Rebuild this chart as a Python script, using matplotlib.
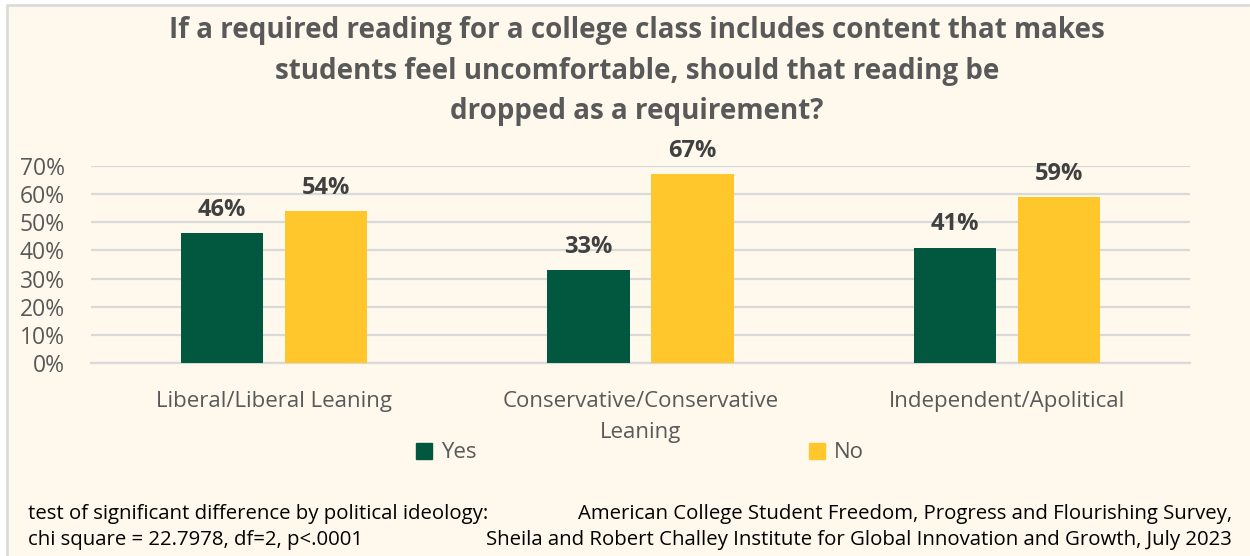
import numpy as np
import matplotlib
matplotlib.use("Agg")
import matplotlib.pyplot as plt
from matplotlib.patches import Rectangle, Patch

# survey results by political ideology
categories = ["Liberal/Liberal Leaning", "Conservative/Conservative\nLeaning", "Independent/Apolitical"]
yes_pct = [46, 33, 41]
no_pct = [54, 67, 59]
y_ticks = [0, 10, 20, 30, 40, 50, 60, 70]

title = ("If a required reading for a college class includes content that makes\n"
         "students feel uncomfortable, should that reading be\n"
         "dropped as a requirement?")
note_left = "test of significant difference by political ideology:\nchi square = 22.7978, df=2, p<.0001"
note_right = ("American College Student Freedom, Progress and Flourishing Survey,\n"
              "Sheila and Robert Challey Institute for Global Innovation and Growth, July 2023")

GREEN = "#02573F"
GOLD = "#FFC72C"
CREAM = "#FEF9EC"
GRID = "#D9D9D9"
TXT = "#595959"
LBL = "#404040"

plt.rcParams['font.family'] = ['Open Sans', 'DejaVu Sans']

W, H = 1250, 556
fig = plt.figure(figsize=(W / 100, H / 100), dpi=100, facecolor="white")

# cream panel with thin grey frame on top/left
fig.patches.append(Rectangle((7 / W, -0.05), 1.1, (H - 5) / H + 0.05,
                             transform=fig.transFigure, facecolor=CREAM,
                             edgecolor=GRID, lw=1.8, zorder=-10))

ax = fig.add_axes([91 / W, 1 - 363.3 / H, (1190 - 91) / W, (363.3 - 165.7) / H])
ax.set_facecolor("none")

x = np.arange(len(categories))
bw = 0.224
off = 0.142
b1 = ax.bar(x - off, yes_pct, bw, color=GREEN, zorder=3, label="Yes")
b2 = ax.bar(x + off, no_pct, bw, color=GOLD, zorder=3, label="No")

for bars, vals in ((b1, yes_pct), (b2, no_pct)):
    for r, v in zip(bars, vals):
        ax.annotate(f"{v}%", (r.get_x() + r.get_width() / 2, v),
                    xytext=(0, 8), textcoords="offset points",
                    ha="center", va="bottom", fontsize=17, fontweight="bold",
                    color=LBL)

ax.set_xlim(-0.5, len(categories) - 0.5)
ax.set_ylim(0, 70)
ax.set_yticks(y_ticks)
ax.set_yticklabels([f"{t}%" for t in y_ticks])
ax.set_xticks(x)
ax.set_xticklabels(categories, linespacing=1.6)
ax.tick_params(axis="both", length=0, labelsize=16, labelcolor=TXT)
ax.tick_params(axis="x", pad=20)
ax.tick_params(axis="y", labelsize=16.5, pad=19)
ax.yaxis.grid(True, color=GRID, lw=1.6, zorder=0)
for s in ["top", "right", "left"]:
    ax.spines[s].set_visible(False)
ax.spines["bottom"].set_color(GRID)
ax.spines["bottom"].set_linewidth(1.6)

fig.text(637 / W, 1 - 71 / H, title, ha="center", va="center", fontsize=20,
         fontweight="bold", color=TXT, linespacing=1.52)

handles = [Patch(color=GREEN), Patch(color=GOLD)]
fig.legend(handles, ["Yes", "No"], loc="center", bbox_to_anchor=(640 / W, 1 - 453 / H),
           ncol=2, frameon=False, fontsize=16, labelcolor=TXT,
           handlelength=0.7, handleheight=0.7, handletextpad=0.4, columnspacing=15)

fig.text(28 / W, 1 - 527 / H, note_left, ha="left", va="center", fontsize=14.7,
         color="black", linespacing=1.35)
fig.text(1232 / W, 1 - 527 / H, note_right, ha="right", va="center", fontsize=14.7,
         color="black", linespacing=1.35, multialignment="right")

fig.savefig("out.png", dpi=100, facecolor=fig.get_facecolor())
